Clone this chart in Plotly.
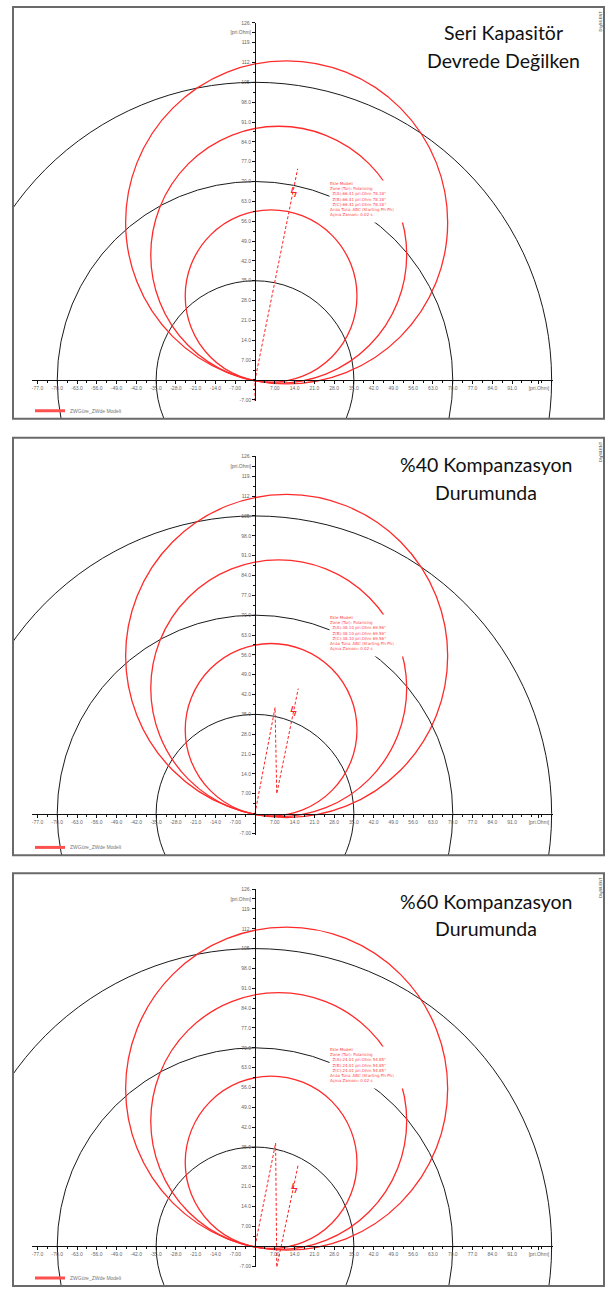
import plotly.graph_objects as go

W, H = 610, 1293

# ---------------- data ----------------
# relay zone circles (same settings in every panel), pri.Ohm
ZONE_CX = [5.7, 8.4, 11.2]
ZONE_CY = [29.6, 44.2, 55.6]
ZONE_R = [30.4, 45.3, 57.0]
# black reference circles centred on origin
REF_R = [35, 70, 105]

# impedance trajectories per panel
TRAJ_X = [[0, 0, 15.1], [0, 7.1, 7.7, 15.3], [0, 7.3, 7.7, 15.3]]
TRAJ_Y = [[-7.4, 0, 74.5], [0, 37.4, 7.0, 44.1], [0, 36.4, -7.4, 28.8]]
FAULT_X = [13.7, 13.6, 13.9]
FAULT_Y = [65.7, 35.7, 20.0]

TITLES = [["Seri Kapasitör", "Devrede Değilken"],
          ["%40 Kompanzasyon", "Durumunda"],
          ["%60 Kompanzasyon", "Durumunda"]]

INFO = [
    ["Ekle Modeli", "Zone (Tür): Polarising", "  Z(A):66.41 pri.Ohm 78.18°", "  Z(B):66.41 pri.Ohm 78.18°",
     "  Z(C):66.41 pri.Ohm 78.18°", "Arıza Türü: ABC (Starting Ph-Ph)", "Açma Zamanı: 0.02 s"],
    ["Ekle Modeli", "Zone (Tür): Polarising", "  Z(A):38.10 pri.Ohm 69.56°", "  Z(B):38.10 pri.Ohm 69.56°",
     "  Z(C):38.10 pri.Ohm 69.56°", "Arıza Türü: ABC (Starting Ph-Ph)", "Açma Zamanı: 0.02 s"],
    ["Ekle Modeli", "Zone (Tür): Polarising", "  Z(A):24.01 pri.Ohm 54.85°", "  Z(B):24.01 pri.Ohm 54.85°",
     "  Z(C):24.01 pri.Ohm 54.85°", "Arıza Türü: ABC (Starting Ph-Ph)", "Açma Zamanı: 0.02 s"],
]
LEGEND_NAME = "ZWGüre_ZWde Modeli"

X_TICKS = [-77, -70, -63, -56, -49, -42, -35, -28, -21, -14, -7, 7, 14, 21, 28, 35, 42, 49, 56, 63, 70, 77, 84, 91, 100.5]
X_TICK_TEXT = ["-77.0", "-70.0", "-63.0", "-56.0", "-49.0", "-42.0", "-35.0", "-28.0", "-21.0", "-14.0", "-7.00",
               "7.00", "14.0", "21.0", "28.0", "35.0", "42.0", "49.0", "56.0", "63.0", "70.0", "77.0", "84.0",
               "91.0", "[pri.Ohm]"]
Y_TICKS = [-7, 7, 14, 21, 28, 35, 42, 49, 56, 63, 70, 77, 84, 91, 98, 105, 112, 119, 122.5, 126]
Y_TICK_TEXT = ["-7.00", "7.00", "14.0", "21.0", "28.0", "35.0", "42.0", "49.0", "56.0", "63.0", "70.0", "77.0",
               "84.0", "91.0", "98.0", "105.", "112.", "119.", "[pri.Ohm]", "126."]
X_AXIS_EXT = [-79, 105.5]
Y_AXIS_EXT = [-7.4, 126]

# ---------------- layout geometry (pixels) ----------------
FRAME_L, FRAME_R = 13, 604
FRAME_T = [4, 437, 875]
FRAME_B = [418, 857, 1290]
ORIGIN_X = 255
ORIGIN_Y = [379, 815, 1250]
SX, SY = 2.825, 2.85  # px per ohm
TITLE_X = [503, 486, 486]
TITLE_Y = [[30, 57.5], [464, 492], [903, 931]]


def pxx(v):
    return v / W


def pyy(v):
    return 1 - v / H


fig = go.Figure()
layout = dict(width=W, height=H, margin=dict(l=0, r=0, t=0, b=0),
              paper_bgcolor="white", plot_bgcolor="rgba(0,0,0,0)", showlegend=True)
shapes = []
annotations = []
tickfont = dict(family="Liberation Sans", size=5, color="#666666")

for i in range(3):
    dn = 2 * i + 1  # data axes
    tn = 2 * i + 2  # tick axes
    oy = ORIGIN_Y[i]
    xr = [(FRAME_L - ORIGIN_X) / SX, (FRAME_R - ORIGIN_X) / SX]
    yr = [(oy - FRAME_B[i]) / SY, (oy - FRAME_T[i]) / SY]
    layout[f"xaxis{dn}"] = dict(domain=[pxx(FRAME_L), pxx(FRAME_R)], range=xr, visible=False,
                                anchor=f"y{dn}", fixedrange=True)
    layout[f"yaxis{dn}"] = dict(domain=[pyy(FRAME_B[i]), pyy(FRAME_T[i])], range=yr, visible=False,
                                anchor=f"x{dn}", fixedrange=True)
    xd = [pxx(ORIGIN_X + X_AXIS_EXT[0] * SX), pxx(ORIGIN_X + X_AXIS_EXT[1] * SX)]
    yd = [pyy(oy - Y_AXIS_EXT[0] * SY), pyy(oy - Y_AXIS_EXT[1] * SY)]
    layout[f"xaxis{tn}"] = dict(domain=xd, range=X_AXIS_EXT, anchor="free", position=pyy(oy),
                                showline=True, linecolor="#111111", linewidth=1, showgrid=False, zeroline=False,
                                tickmode="array", tickvals=X_TICKS, ticktext=X_TICK_TEXT, ticks="outside",
                                ticklen=3, tickcolor="#111111", tickfont=tickfont, tickangle=0,
                                minor=dict(tickmode="linear", tick0=0, dtick=3.5, ticks="outside", ticklen=2,
                                           tickcolor="#111111"),
                                fixedrange=True)
    layout[f"yaxis{tn}"] = dict(domain=yd, range=Y_AXIS_EXT, anchor="free", position=pxx(ORIGIN_X),
                                showline=True, linecolor="#111111", linewidth=1, showgrid=False, zeroline=False,
                                tickmode="array", tickvals=Y_TICKS, ticktext=Y_TICK_TEXT, ticks="outside",
                                ticklen=3, tickcolor="#111111", tickfont=tickfont,
                                minor=dict(tickmode="linear", tick0=0, dtick=3.5, ticks="outside", ticklen=2,
                                           tickcolor="#111111"),
                                fixedrange=True)
    fig.add_trace(go.Scatter(x=[X_AXIS_EXT[0]], y=[Y_AXIS_EXT[0]], xaxis=f"x{tn}", yaxis=f"y{tn}",
                             mode="markers", marker=dict(opacity=0), showlegend=False, hoverinfo="skip"))

    for r in REF_R:
        shapes.append(dict(type="circle", xref=f"x{dn}", yref=f"y{dn}", x0=-r, x1=r, y0=-r, y1=r,
                           line=dict(color="#1a1a1a", width=1), layer="below"))
    for cx, cy, r in zip(ZONE_CX, ZONE_CY, ZONE_R):
        shapes.append(dict(type="circle", xref=f"x{dn}", yref=f"y{dn}", x0=cx - r, x1=cx + r,
                           y0=cy - r, y1=cy + r, line=dict(color="#ff2a2a", width=1.3), layer="below"))

    fig.add_trace(go.Scatter(x=TRAJ_X[i], y=TRAJ_Y[i], xaxis=f"x{dn}", yaxis=f"y{dn}", mode="lines",
                             line=dict(color="#ff2020", width=1, dash="3px,2px"), showlegend=False,
                             hoverinfo="skip"))
    fig.add_trace(go.Scatter(x=[FAULT_X[i]], y=[FAULT_Y[i]], xaxis=f"x{dn}", yaxis=f"y{dn}", mode="text",
                             text=["ϟ"], textfont=dict(color="#ff2020", size=13, family="DejaVu Sans"),
                             showlegend=False, hoverinfo="skip"))
    lg = "legend" if i == 0 else f"legend{i + 1}"
    fig.add_trace(go.Scatter(x=[None], y=[None], xaxis=f"x{dn}", yaxis=f"y{dn}", mode="lines",
                             line=dict(color="#ff5050", width=3), name=LEGEND_NAME, legend=lg))
    layout[lg] = dict(x=pxx(30), y=pyy(FRAME_B[i] - 8), xanchor="left", yanchor="middle",
                      bgcolor="rgba(0,0,0,0)", font=dict(family="Liberation Sans", size=5, color="#777777"),
                      itemwidth=30)

    shapes.append(dict(type="rect", xref="paper", yref="paper", x0=pxx(FRAME_L), x1=pxx(FRAME_R),
                       y0=pyy(FRAME_B[i]), y1=pyy(FRAME_T[i]), line=dict(color="#6a6a6a", width=2),
                       layer="above"))
    annotations.append(dict(xref="paper", yref="paper", x=pxx(329), y=pyy(oy - 201), xanchor="left",
                            yanchor="top", width=86, height=41, align="left", valign="top",
                            text="<br>".join(INFO[i]), showarrow=False, bgcolor="white", borderpad=0,
                            font=dict(family="DejaVu Sans", size=4, color="#ff4646")))
    for k in range(2):
        annotations.append(dict(xref="paper", yref="paper", x=pxx(TITLE_X[i]), y=pyy(TITLE_Y[i][k]),
                                xanchor="center", yanchor="middle", text=TITLES[i][k], showarrow=False,
                                font=dict(family="Lato", size=19.5, color="#111111")))
    annotations.append(dict(xref="paper", yref="paper", x=pxx(605), y=pyy(FRAME_T[i] + 14),
                            xanchor="right", yanchor="middle", text="DIgSILENT", textangle=-90,
                            showarrow=False, font=dict(family="Liberation Sans", size=4, color="#444444")))

layout["shapes"] = shapes
layout["annotations"] = annotations
fig.update_layout(**layout)
fig.write_html("out.html", config={"displayModeBar": False},
               post_script="document.body.style.margin='0';document.body.style.overflow='hidden';")
